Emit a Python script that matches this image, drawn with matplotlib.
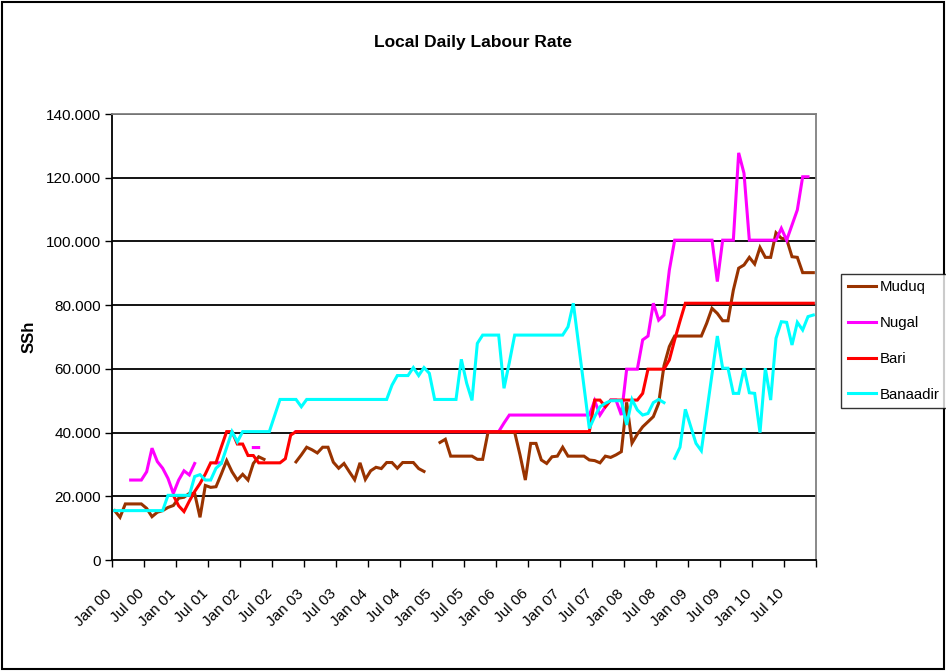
import numpy as np
import matplotlib
matplotlib.use("Agg")
import matplotlib.pyplot as plt
from matplotlib.patches import Rectangle
from matplotlib.transforms import ScaledTranslation

nan = np.nan

# ---- data (monthly, Jan 2000 .. Dec 2010) ----
years = [f"{y:02d}" for y in range(0, 11)]
tick_labels = []
for y in years:
    tick_labels += [f"Jan {y}", f"Jul {y}"]

muduq = ([15.5, 13.4, 17.6, 17.6, 17.6, 17.6, 16.2, 13.6, 15.0, 15.5, 16.5, 17.1,
          19.4, 19.7, 20.9, 20.9, 13.4, 23.4, 22.8, 23.0, 27.0, 31.2, 27.7, 25.1,
          26.9, 25.1, 30.3, 32.4, 31.6]
         + [nan] * 5
         + [30.8, 33.0, 35.4, 34.6, 33.6, 35.4, 35.4, 30.7, 28.8, 30.3, 27.7, 25.2,
            30.5, 25.3, 28.0, 29.1, 28.7, 30.6, 30.6, 28.8, 30.6, 30.6, 30.6, 28.7, 27.8]
         + [nan] * 2
         + [36.9, 37.9, 32.6, 32.6, 32.6, 32.6, 32.6, 31.6, 31.6,
            40.1, 40.1, 40.1, 40.1, 40.1, 40.1, 33.0, 25.1, 36.6, 36.6, 31.4, 30.3,
            32.4, 32.6, 35.4, 32.6, 32.6, 32.6, 32.6, 31.4, 31.2, 30.5, 32.6, 32.2,
            33.0, 34.0, 49.5, 36.7, 39.5, 41.8, 43.4, 45.0, 49.2, 61.0, 67.0,
            70.3, 70.3, 70.3, 70.3, 70.3, 70.3, 74.3, 79.0, 77.4, 75.1, 75.1, 84.7,
            91.6, 92.6, 95.0, 92.9, 98.1, 95.0, 95.0, 102.7, 101.0, 100.7, 95.2, 95.0,
            90.2, 90.2, 90.2])

nugal = ([nan] * 3
         + [25.1, 25.1, 25.1, 27.7, 35.1, 30.9, 28.8, 25.6, 20.9, 25.1, 28.0, 26.7, 30.3]
         + [nan] * 3 + [30.5, 30.5]
         + [nan] * 5 + [35.3, 35.3]
         + [nan] * 6
         + [40.3] * 39
         + [43.0] + [45.5] * 15
         + [45.5, 50.0, 45.5, 48.1, 50.2, 50.2, 45.5, 59.9, 59.9, 59.9, 69.1, 70.3,
            80.6, 75.3, 76.9, 91.0]
         + [100.4] * 8 + [87.4] + [100.4] * 3 + [127.8, 121.4] + [100.4] * 6
         + [104.1, 100.4, 105.1, 109.9, 120.3, 120.3, nan])

bari = ([nan] * 11
        + [20.3, 17.0, 15.2, 18.5, 21.5, 24.0, 27.0, 30.5, 30.5, 35.5, 40.3, 40.3,
           36.4, 36.4, 32.8, 32.8, 30.5, 30.5, 30.5, 30.5, 30.5, 31.8, 39.2]
        + [40.3] * 55
        + [40.3, 50.2, 50.2, 48.1, 50.2, 50.2, 50.2, 50.2, 50.2, 50.2, 52.3, 59.9,
           59.9, 59.9, 59.9, 62.8, 69.1, 75.0]
        + [80.6] * 25)

banaadir = ([15.5] * 10 + [20.3] * 5
            + [26.2, 26.8, 25.1, 25.1, 28.8, 30.3, 35.3, 40.3, 37.1,
               40.3, 40.3, 40.3, 40.3, 40.3, 40.3, 45.3, 50.4, 50.4, 50.4, 50.4, 48.1]
            + [50.4] * 16
            + [54.9, 57.9, 57.9, 57.9, 60.4, 57.9, 60.4, 58.6]
            + [50.4] * 5
            + [63.0, 55.5, 50.1, 68.0] + [70.6] * 4 + [53.9, 62.0] + [70.6] * 10
            + [73.2, 80.6, 67.5, 54.4, 41.3, 45.0, 48.1, 49.2, 50.0, 50.0, 50.0, 42.4,
               50.4, 47.1, 45.5, 46.0, 49.4, 50.4, 49.4]
            + [nan]
            + [31.9, 35.4, 47.3, 42.0, 36.6, 34.3, 46.3, 58.3, 70.3, 60.2, 60.2, 52.3,
               52.3, 60.2, 52.5, 52.3, 40.0, 60.2, 50.2, 69.6, 74.8, 74.6, 67.5, 74.6,
               72.2, 76.4, 76.9])

series = [("Muduq", muduq, "#993300"),
          ("Nugal", nugal, "#FF00FF"),
          ("Bari", bari, "#FF0000"),
          ("Banaadir", banaadir, "#00FFFF")]

ytick_vals = [0, 20, 40, 60, 80, 100, 120, 140]
ytick_labels = ["0", "20.000", "40.000", "60.000", "80.000", "100.000", "120.000", "140.000"]

plt.rcParams['font.family'] = ['Liberation Sans', 'DejaVu Sans']

W, H = 946, 671
fig = plt.figure(figsize=(W / 100, H / 100), dpi=100)
ax = fig.add_axes([112 / W, 1 - 560 / H, (816 - 112) / W, (560 - 114) / H])

n = len(muduq)
x = np.arange(n)
lines = []
for name, vals, col in series:
    ln, = ax.plot(x, np.array(vals, dtype=float), color=col, lw=2.2, label=name,
                  solid_joinstyle='miter', zorder=3)
    lines.append(ln)

ax.set_xlim(-0.5, n - 0.5)
ax.set_ylim(0, 140)

# grid lines
for v in ytick_vals[1:]:
    ax.axhline(v, color='black', lw=1.3, zorder=1)

ax.set_yticks(ytick_vals)
ax.set_yticklabels(ytick_labels, fontsize=11)
ax.tick_params(axis='y', direction='out', length=5, width=1, pad=3)

major = np.arange(0, n, 6)
ax.set_xticks(major)
ax.set_xticklabels(tick_labels[:len(major)], rotation=45,
                   ha='right', va='top', rotation_mode='anchor', fontsize=11)
ax.tick_params(axis='x', which='major', length=0, pad=19)
ax.set_xticks(np.arange(-0.5, n, 6), minor=True)
ax.tick_params(axis='x', which='minor', direction='out', length=5, width=1)
shift = ScaledTranslation(-10 / 100, 0, fig.dpi_scale_trans)
for lab in ax.get_xticklabels():
    lab.set_transform(lab.get_transform() + shift)

for s in ['left', 'bottom']:
    ax.spines[s].set_color('black')
    ax.spines[s].set_linewidth(1.3)
for s in ['top', 'right']:
    ax.spines[s].set_color('#808080')
    ax.spines[s].set_linewidth(1.3)

ax.set_ylabel("SSh", fontsize=12, fontweight='bold')
ax.yaxis.set_label_coords((37 - 112) / (816 - 112), 0.5)

fig.text(473 / W, 1 - 42 / H, "Local Daily Labour Rate", ha='center', va='center',
         fontsize=12.5, fontweight='bold')

leg = fig.legend(handles=lines, loc='center left', bbox_to_anchor=(841 / W, 1 - 341 / H),
                 fontsize=10.8, frameon=True, fancybox=False, edgecolor='black',
                 handlelength=1.85, labelspacing=1.45, borderpad=0.45, handletextpad=0.3,
                 borderaxespad=0)
leg.get_frame().set_linewidth(1.0)

fig.patches.append(Rectangle((2 / W, 2 / H), (W - 4) / W, (H - 4) / H,
                             transform=fig.transFigure, fill=False,
                             edgecolor='black', lw=1.5))

fig.savefig("out.png", dpi=100)
